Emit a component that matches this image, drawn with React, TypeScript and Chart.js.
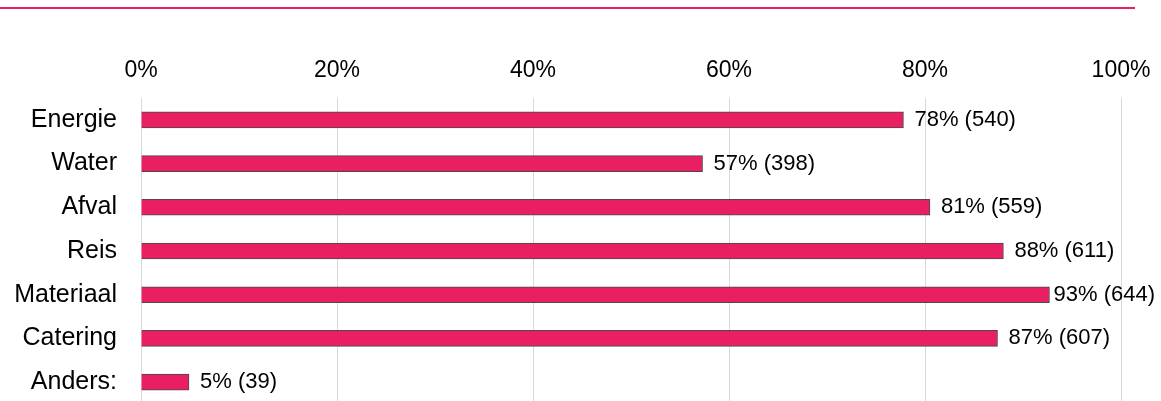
import React, { useEffect, useRef } from "react";
import { Chart, registerables } from "chart.js";

Chart.register(...registerables);

const categories = ["Energie", "Water", "Afval", "Reis", "Materiaal", "Catering", "Anders:"];
const values = [77.8, 57.3, 80.5, 88.0, 92.7, 87.4, 4.9];
const valueLabels = ["78% (540)", "57% (398)", "81% (559)", "88% (611)", "93% (644)", "87% (607)", "5% (39)"];
const tickValues = [0, 20, 40, 60, 80, 100];

const PINK = "#E91F62";
const FONT = "'Liberation Sans', Arial, sans-serif";

const valueLabelPlugin = {
  id: "valueLabels",
  afterDatasetsDraw(chart: any) {
    const ctx = chart.ctx;
    const meta = chart.getDatasetMeta(0);
    ctx.save();
    ctx.font = `22px ${FONT}`;
    ctx.fillStyle = "#000";
    ctx.textAlign = "left";
    ctx.textBaseline = "middle";
    meta.data.forEach((bar: any, i: number) => {
      const w = ctx.measureText(valueLabels[i]).width;
      const x = Math.min(bar.x + 11, chart.width - 6 - w);
      ctx.fillText(valueLabels[i], x, bar.y);
    });
    ctx.restore();
  },
};

export default function App() {
  const ref = useRef<HTMLCanvasElement | null>(null);
  useEffect(() => {
    if (!ref.current) return;
    const chart = new Chart(ref.current, {
      type: "bar",
      data: {
        labels: categories,
        datasets: [
          {
            data: values,
            backgroundColor: PINK,
            borderColor: "#4a4a4a",
            borderWidth: 1,
            barThickness: 16,
          },
        ],
      },
      options: {
        indexAxis: "y",
        animation: false,
        responsive: true,
        maintainAspectRatio: false,
        layout: { padding: { left: 0, right: 40, top: 0, bottom: 0 } },
        plugins: { legend: { display: false }, tooltip: { enabled: false } },
        scales: {
          x: {
            position: "top",
            min: 0,
            max: 100,
            afterBuildTicks(axis: any) {
              axis.ticks = tickValues.map((v) => ({ value: v }));
            },
            afterFit(axis: any) {
              axis.height = 98;
              axis.paddingLeft = 0;
              axis.paddingRight = 0;
            },
            ticks: {
              callback: (v: any) => v + "%",
              font: { family: FONT, size: 23 },
              color: "#000",
              padding: 14,
              maxRotation: 0,
            },
            grid: { color: "#d9d9d9", drawTicks: false, lineWidth: 1 },
            border: { display: false },
          },
          y: {
            afterFit(axis: any) {
              axis.width = 141;
              axis.paddingTop = 0;
              axis.paddingBottom = 0;
            },
            ticks: {
              font: { family: FONT, size: 25 },
              color: "#000",
              padding: 24,
            },
            grid: { display: false, drawTicks: false },
            border: { display: false },
          },
        },
      },
      plugins: [valueLabelPlugin],
    });
    return () => chart.destroy();
  }, []);

  return (
    <div style={{ position: "absolute", left: 0, top: 0, width: 1161, height: 401, background: "#fff", overflow: "hidden" }}>
      <div style={{ position: "absolute", left: 0, top: 7, width: 1135, height: 2, background: PINK }} />
      <div style={{ position: "absolute", left: 0, top: 0, width: 1161, height: 404 }}>
        <canvas ref={ref} />
      </div>
    </div>
  );
}
